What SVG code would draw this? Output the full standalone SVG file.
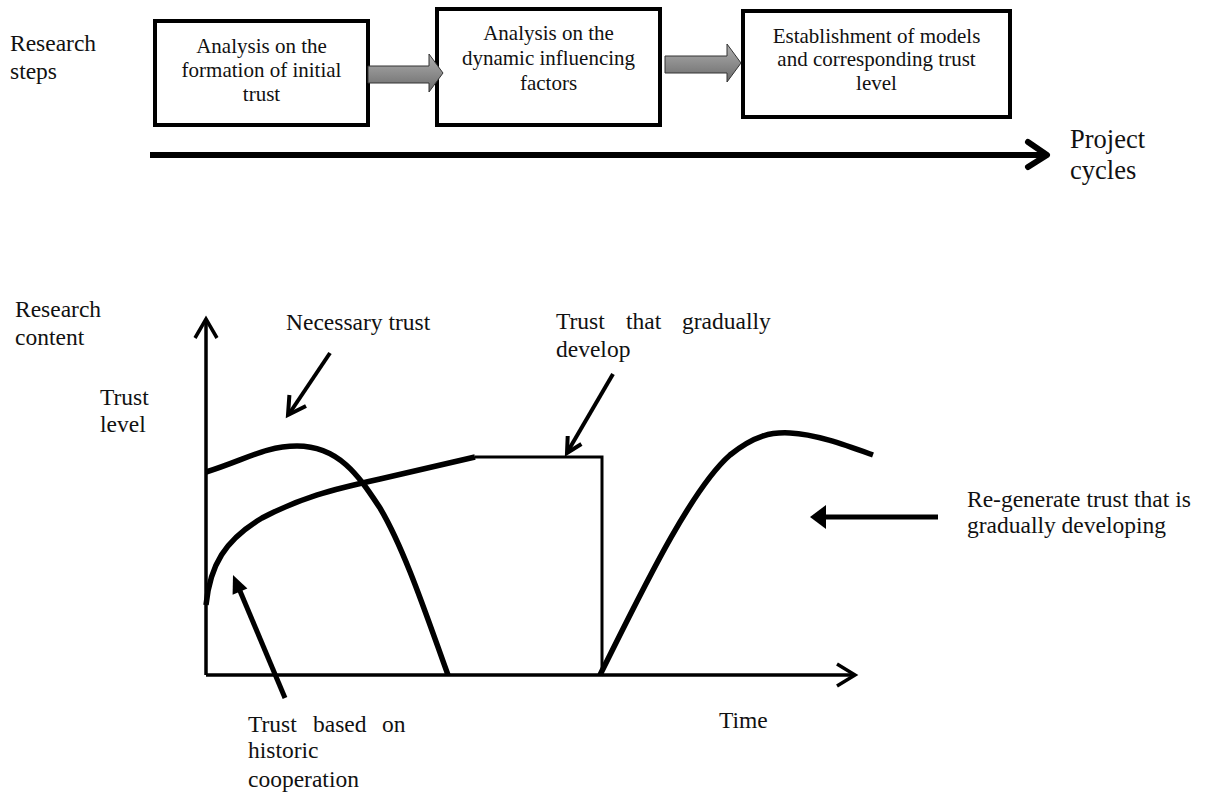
<svg xmlns="http://www.w3.org/2000/svg" width="1222" height="796" viewBox="0 0 1222 796">
  <style>
    .lbl { font-family: "Liberation Serif", "Times New Roman", serif; font-size: 23.5px; fill: #111; }
    .box-text { font-family: "Liberation Serif", "Times New Roman", serif; font-size: 21px; fill: #111; text-anchor: middle; }
    .big { font-family: "Liberation Serif", "Times New Roman", serif; font-size: 26.5px; fill: #111; }
    .box { fill: #fff; stroke: #000; stroke-width: 4; }
    .step-arrow { fill: url(#grayFill); stroke: #333; stroke-width: 1; }
    .axis { fill: none; stroke: #000; stroke-width: 3.5; stroke-linecap: butt; }
    .curve { fill: none; stroke: #000; stroke-width: 5.5; stroke-linecap: butt; stroke-linejoin: round; }
    .thin { fill: none; stroke: #000; stroke-width: 3; }
    .pointer { fill: none; stroke: #000; stroke-width: 4; stroke-linecap: butt; stroke-linejoin: miter; }
    .pointer-thick { fill: none; stroke: #000; stroke-width: 5; }
  </style>
  <defs>
    <linearGradient id="grayFill" x1="0" y1="0" x2="0" y2="1">
      <stop offset="0" stop-color="#b0b0b0"/>
      <stop offset="1" stop-color="#6a6a6a"/>
    </linearGradient>
  </defs>
  <rect width="1222" height="796" fill="#fff"/>

  <!-- Top band: research steps along the project cycle -->
  <g id="label-research-steps">
    <text class="lbl" x="10" y="51">Research</text>
    <text class="lbl" x="10" y="79">steps</text>
  </g>

  <g id="step-initial-trust">
    <rect class="box" x="155" y="21" width="213" height="104"/>
    <text class="box-text" x="261.5" y="53">Analysis on the</text>
    <text class="box-text" x="261.5" y="77">formation of initial</text>
    <text class="box-text" x="261.5" y="101">trust</text>
  </g>

  <g id="step-dynamic-factors">
    <rect class="box" x="437" y="9" width="223" height="116"/>
    <text class="box-text" x="548.5" y="40">Analysis on the</text>
    <text class="box-text" x="548.5" y="65">dynamic influencing</text>
    <text class="box-text" x="548.5" y="90">factors</text>
  </g>

  <g id="step-models">
    <rect class="box" x="743" y="11" width="267" height="106"/>
    <text class="box-text" x="876.5" y="43">Establishment of models</text>
    <text class="box-text" x="876.5" y="66">and corresponding trust</text>
    <text class="box-text" x="876.5" y="90">level</text>
  </g>

  <g id="label-project-cycles">
    <text class="big" x="1070" y="148">Project</text>
    <text class="big" x="1070" y="179">cycles</text>
  </g>

  <!-- Bottom band: trust level over time -->
  <g id="label-research-content">
    <text class="lbl" x="15" y="317">Research</text>
    <text class="lbl" x="15" y="345">content</text>
  </g>

  <g id="label-trust-level">
    <text class="lbl" x="100" y="405">Trust</text>
    <text class="lbl" x="100" y="432">level</text>
  </g>

  <g id="label-necessary-trust">
    <text class="lbl" x="286" y="330">Necessary trust</text>
  </g>

  <g id="label-gradual-trust">
    <text class="lbl" x="556" y="329">Trust</text>
    <text class="lbl" x="626" y="329">that</text>
    <text class="lbl" x="682" y="329">gradually</text>
    <text class="lbl" x="556" y="357">develop</text>
  </g>

  <g id="label-regenerate">
    <text class="lbl" x="967" y="507">Re-generate trust that is</text>
    <text class="lbl" x="967" y="533">gradually developing</text>
  </g>

  <g id="label-time">
    <text class="lbl" x="719" y="728">Time</text>
  </g>

  <g id="label-historic-trust">
    <text class="lbl" x="248" y="732">Trust</text>
    <text class="lbl" x="313" y="732">based</text>
    <text class="lbl" x="382" y="732">on</text>
    <text class="lbl" x="248" y="758">historic</text>
    <text class="lbl" x="248" y="787">cooperation</text>
  </g>

  <g id="chart-curves">
    <!-- necessary trust: rises slightly then collapses -->
    <path class="curve" d="M206,472 C245,460 265,446 297,446 C340,446 360,478 380,508 C405,550 428,620 448,675"/>
    <!-- trust based on historic cooperation -->
    <path class="curve" d="M206,605 C210,565 225,540 262,518 C300,498 330,490 380,479 L475,457"/>
    <!-- gradually developing trust plateau and drop -->
    <polyline class="thin" points="475,457 602,457 602,675"/>
    <!-- regenerated trust -->
    <path class="curve" d="M600,675 C640,595 690,490 730,455 C755,435 772,432 790,433 C815,434 845,445 873,455"/>
  </g>

  <g id="connectors">
    <!-- gray step arrows -->
    <polygon class="step-arrow" points="368,66 429,66 429,54 443,73 429,92 429,83 368,83"/>
    <polygon class="step-arrow" points="665,56 727,56 727,44 741,63 727,82 727,73 665,73"/>
    <!-- project cycle timeline -->
    <line x1="150" y1="155" x2="1044" y2="155" stroke="#000" stroke-width="6"/>
    <polyline points="1028,142 1047,155 1028,167" fill="none" stroke="#000" stroke-width="6" stroke-linecap="round" stroke-linejoin="round"/>
    <!-- axes -->
    <line class="axis" x1="206" y1="675" x2="206" y2="319"/>
    <polyline class="axis" points="195,338 206,319 217,338"/>
    <line class="axis" x1="206" y1="675" x2="854" y2="675"/>
    <polyline class="axis" points="837,664 855,675 837,686"/>
    <!-- label pointers -->
    <line class="pointer" x1="330" y1="353" x2="289" y2="414"/>
    <polyline class="pointer" points="289.4,395 288,415 306,406"/>
    <line class="pointer" x1="613" y1="374" x2="568" y2="451"/>
    <polyline class="pointer" points="567.7,436 567,453 581.4,444"/>
    <line class="pointer-thick" x1="285" y1="698" x2="240" y2="591"/>
    <polygon points="233,575 247.4,588.5 232.6,594.7" fill="#000"/>
    <line class="pointer-thick" x1="938" y1="517" x2="824" y2="517"/>
    <polygon points="810,517 826,505 826,529" fill="#000"/>
  </g>
</svg>
